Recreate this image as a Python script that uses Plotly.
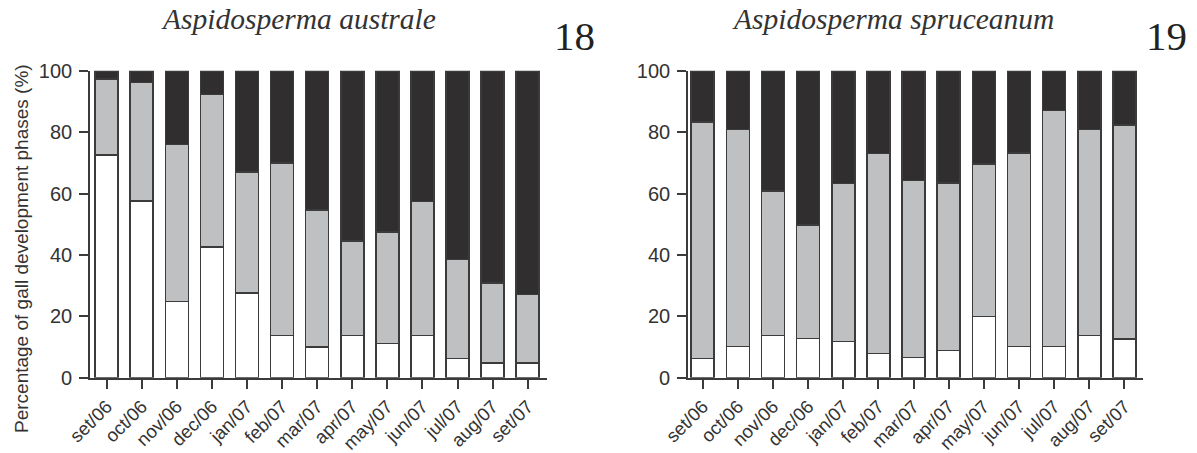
import plotly.graph_objects as go

W, H = 1197, 453

months = ["set/06", "oct/06", "nov/06", "dec/06", "jan/07", "feb/07", "mar/07",
          "apr/07", "may/07", "jun/07", "jul/07", "aug/07", "set/07"]

# Aspidosperma australe (Fig. 18) - percentage of each gall development phase
aus_phase1 = [72.5, 57.5, 24.8, 42.5, 27.5, 13.7, 10.0, 13.7, 11.2, 13.7, 6.2, 4.8, 4.8]
aus_phase2 = [24.8, 38.6, 51.2, 49.7, 39.6, 56.2, 44.7, 30.9, 36.2, 43.7, 32.3, 26.1, 22.3]
aus_phase3 = [2.7, 3.9, 24.0, 7.8, 32.9, 30.1, 45.3, 55.4, 52.6, 42.6, 61.5, 69.1, 72.9]

# Aspidosperma spruceanum (Fig. 19)
spr_phase1 = [6.2, 10.2, 13.8, 12.8, 11.8, 7.9, 6.6, 8.8, 20.0, 10.2, 10.2, 13.8, 12.7]
spr_phase2 = [77.1, 70.6, 47.1, 36.9, 51.5, 65.1, 57.6, 54.6, 49.6, 63.0, 76.8, 67.0, 69.6]
spr_phase3 = [16.7, 19.2, 39.1, 50.3, 36.7, 27.0, 35.8, 36.6, 30.4, 26.8, 13.0, 19.2, 17.7]

phase_colors = ["#ffffff", "#bfc0c2", "#302e2f"]
outline = "#3b3b3b"
txt = "#333333"

def px(x):
    return x / W

def py(y):
    return 1 - y / H

fig = go.Figure()

for xa, ya, series in [("x", "y", [aus_phase1, aus_phase2, aus_phase3]),
                       ("x2", "y2", [spr_phase1, spr_phase2, spr_phase3])]:
    for vals, col in zip(series, phase_colors):
        fig.add_trace(go.Bar(
            x=months, y=vals, xaxis=xa, yaxis=ya,
            marker=dict(color=col, line=dict(color=outline, width=1.6)),
            showlegend=False, hoverinfo="x+y"))

axis_common = dict(showline=True, linecolor=outline, linewidth=1.6,
                   ticks="outside", ticklen=9, tickwidth=1.6, tickcolor=outline,
                   showgrid=False, zeroline=False, automargin=False)
xfont = dict(family="Liberation Sans, Arial", size=18.5, color=txt)
yfont = dict(family="Liberation Sans, Arial", size=20, color=txt)

fig.update_layout(
    width=W, height=H,
    margin=dict(l=0, r=0, t=0, b=0, pad=0),
    paper_bgcolor="white", plot_bgcolor="white",
    barmode="stack", bargap=0.345,
    xaxis=dict(domain=[px(90), px(546.6)], range=[-0.476, 12.54], anchor="y",
               tickangle=-45, tickfont=xfont, **axis_common),
    yaxis=dict(domain=[py(377.7), py(70.7)], range=[0, 100], anchor="x",
               tickvals=[0, 20, 40, 60, 80, 100], tickfont=yfont,
               ticklabelstandoff=3, **axis_common),
    xaxis2=dict(domain=[px(688), px(1143.4)], range=[-0.42, 12.54], anchor="y2",
                tickangle=-45, tickfont=xfont, **axis_common),
    yaxis2=dict(domain=[py(377.7), py(70.7)], range=[0, 100], anchor="x2",
                tickvals=[0, 20, 40, 60, 80, 100], tickfont=yfont,
                ticklabelstandoff=3, **axis_common),
)

serif = "Liberation Serif, Times New Roman, serif"
ann = [
    dict(text="<i>Aspidosperma australe</i>", x=px(298.5), y=py(19),
         font=dict(family=serif, size=29.5, color=txt)),
    dict(text="<i>Aspidosperma spruceanum</i>", x=px(892.5), y=py(19),
         font=dict(family=serif, size=29.5, color=txt)),
    dict(text="18", x=px(574), y=py(36), font=dict(family=serif, size=41, color="#222222")),
    dict(text="19", x=px(1166), y=py(36), font=dict(family=serif, size=41, color="#222222")),
    dict(text="Percentage of gall development phases (%)", x=px(21), y=py(249),
         textangle=-90, font=dict(family="Liberation Sans, Arial", size=19, color=txt)),
]
for a in ann:
    fig.add_annotation(xref="paper", yref="paper", showarrow=False,
                       xanchor="center", yanchor="middle", **a)

fig.write_html("out.html")
